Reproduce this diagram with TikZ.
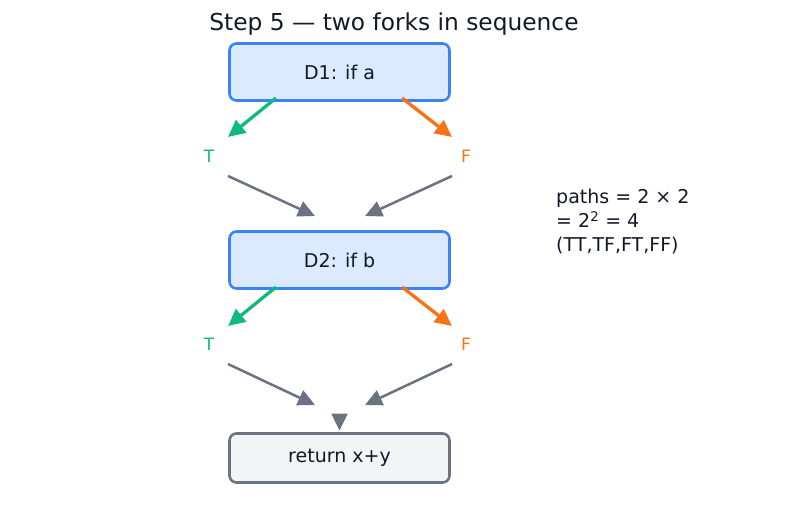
\documentclass[tikz,border=0pt]{standalone}
\usepackage{fontspec}
\setmainfont{DejaVu Sans}
\usetikzlibrary{arrows.meta}
\definecolor{bfill}{HTML}{DBEAFE}
\definecolor{bdraw}{HTML}{3B82F6}
\definecolor{gfill}{HTML}{F3F4F6}
\definecolor{gdraw}{HTML}{6B7280}
\definecolor{tgreen}{HTML}{10B981}
\definecolor{forange}{HTML}{F97316}
\definecolor{ink}{HTML}{111827}
\tikzset{
  decbox/.style={draw=bdraw, fill=bfill, line width=2.6pt, rounded corners=7pt, minimum width=220pt, minimum height=57pt, text=ink, font=\fontsize{19}{22}\selectfont},
  endbox/.style={draw=gdraw, fill=gfill, line width=2.6pt, rounded corners=7pt, minimum width=220pt, minimum height=49pt, text=ink, font=\fontsize{19}{22}\selectfont},
  tip/.style={-{Triangle[length=17pt,width=16pt]}},
  tarrow/.style={tip, draw=tgreen, fill=tgreen, line width=3.3pt},
  farrow/.style={tip, draw=forange, fill=forange, line width=3.3pt},
  marrow/.style={tip, draw=gdraw, fill=gdraw, line width=2.5pt},
  tlab/.style={text=tgreen, font=\fontsize{17}{20}\selectfont},
  flab/.style={text=forange, font=\fontsize{17}{20}\selectfont},
}
\begin{document}
\begin{tikzpicture}[x=1pt, y=-1pt]
\useasboundingbox (0,0) rectangle (787,510);
\node[text=ink, font=\fontsize{23.3}{27}\selectfont] (title) at (394,24) {Step 5 — two forks in sequence};
\node[decbox] (d1) at (339.5,72) {D1: if a};
\node[decbox] (d2) at (339.5,260) {D2: if b};
\node[endbox] (ret) at (339.5,458) {return x+y};
\node[tlab] (t1) at (209,156) {T};
\node[flab] (f1) at (466,156) {F};
\node[tlab] (t2) at (209,344) {T};
\node[flab] (f2) at (466,344) {F};
\node[anchor=base west, inner sep=0pt, align=left, text=ink, font=\fontsize{19}{24}\selectfont] (note) at (556,252) {paths = 2 × 2\\= 2\textsuperscript{2} = 4\\(TT,TF,FT,FF)};
% level 1
\coordinate (a1s) at (276,98); \coordinate (a1e) at (228,137);
\coordinate (b1s) at (402,98); \coordinate (b1e) at (452,137);
\coordinate (c1s) at (228,176); \coordinate (c1e) at (315,216);
\coordinate (e1s) at (452,176); \coordinate (e1e) at (365,216);
\draw[tarrow] (a1s) -- (a1e);
\draw[farrow] (b1s) -- (b1e);
\draw[marrow] (c1s) -- (c1e);
\draw[marrow] (e1s) -- (e1e);
% level 2
\coordinate (a2s) at (276,287); \coordinate (a2e) at (228,326);
\coordinate (b2s) at (402,287); \coordinate (b2e) at (452,326);
\coordinate (c2s) at (228,364); \coordinate (c2e) at (315,405);
\coordinate (e2s) at (452,364); \coordinate (e2e) at (365,405);
\draw[tarrow] (a2s) -- (a2e);
\draw[farrow] (b2s) -- (b2e);
\draw[marrow] (c2s) -- (c2e);
\draw[marrow] (e2s) -- (e2e);
% merge to return
\coordinate (m1) at (339.5,414.5); \coordinate (m2) at (339.5,430.5);
\draw[marrow] (m1) -- (m2);
\end{tikzpicture}
\end{document}
